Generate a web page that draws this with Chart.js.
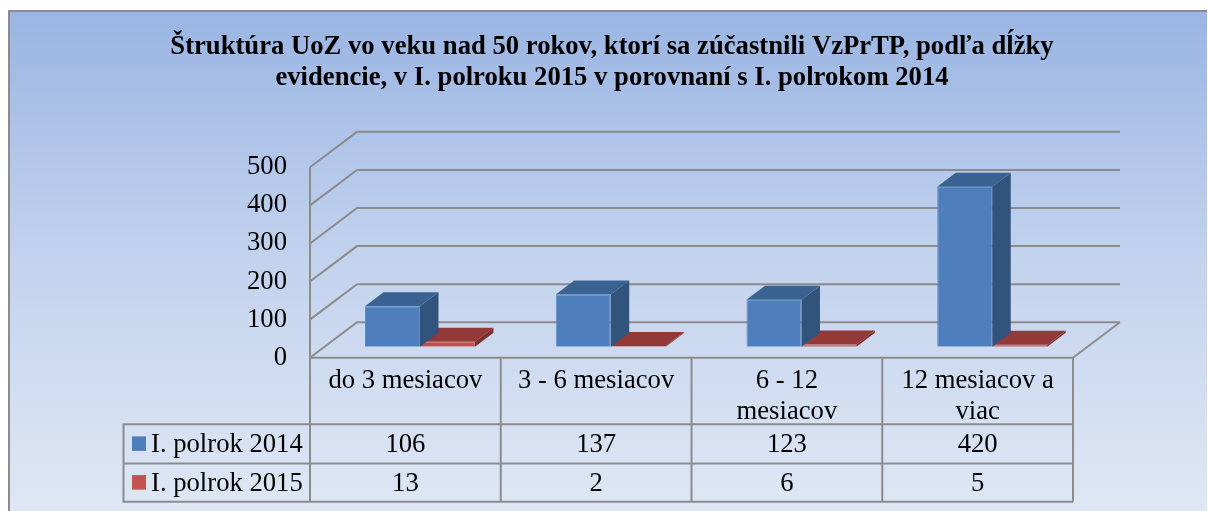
<!DOCTYPE html>
<html><head><meta charset="utf-8">
<style>html,body{margin:0;padding:0;background:#fff}#w{position:relative;width:1208px;height:511px}canvas{display:block}</style>
<script src="https://cdn.jsdelivr.net/npm/chart.js@4"></script>
</head><body><div id="w"><canvas id="c" width="1208" height="511"></canvas></div>
<script>
const titleLines = ["Štruktúra UoZ vo veku nad 50 rokov, ktorí sa zúčastnili VzPrTP, podľa dĺžky", "evidencie, v I. polroku 2015 v porovnaní s I. polrokom 2014"];
const categories = ["do 3 mesiacov", "3 - 6 mesiacov", ["6 - 12", "mesiacov"], ["12 mesiacov a", "viac"]];
const series2014 = [106, 137, 123, 420];
const series2015 = [13, 2, 6, 5];
const seriesNames = ["I. polrok 2014", "I. polrok 2015"];
const yTicks = [0, 100, 200, 300, 400, 500];

const SERIF = "'Liberation Serif','Times New Roman',serif";
const FS = 26.67;
const GRID = "#8c8c8c";
const WALL = {dx: 47, dy: -35.4};
const BAR_D = {dx: 18.5, dy: -14};
const BAR_SHIFT = {x: 14.6, y: -11};
const ROWS = [357.7, 424.3, 463.5, 501.7];
const TABLE_LEFT = 123.5;
const faces = [
  {front: "#4e7fbc", top: "#3b6391", side: "#31537c", edge: "#5f8cc4"},
  {front: "#c4524f", top: "#933a38", side: "#7d2f2d", edge: "#cb5f5c"}
];

const scene = {
  id: "scene",
  beforeDraw(ch) {
    const c = ch.ctx, {left: L, right: R, bottom: B} = ch.chartArea, y = ch.scales.y;
    const g = c.createLinearGradient(0, 12, 0, 511);
    g.addColorStop(0, "#9ab5e3"); g.addColorStop(0.5, "#c3d3ee"); g.addColorStop(1, "#dfe7f4");
    c.fillStyle = g; c.fillRect(9, 11, 1198, 500);
    c.fillStyle = "#8c8c8c"; c.fillRect(8, 10, 1199, 2); c.fillRect(8, 10, 2, 501);
    c.save(); c.strokeStyle = GRID; c.lineWidth = 2; c.beginPath();
    yTicks.forEach(t => {
      const p = y.getPixelForValue(t);
      c.moveTo(L, p); c.lineTo(L + WALL.dx, p + WALL.dy); c.lineTo(R + WALL.dx, p + WALL.dy);
    });
    c.moveTo(L, y.getPixelForValue(yTicks[yTicks.length - 1])); c.lineTo(L, B);
    c.moveTo(R, B); c.lineTo(R + WALL.dx, B + WALL.dy);
    c.stroke(); c.restore();
  },
  beforeDatasetDraw(ch, a) {
    const c = ch.ctx, f = faces[a.index];
    c.save(); c.translate(BAR_SHIFT.x, BAR_SHIFT.y);
    ch.getDatasetMeta(a.index).data.forEach(b => {
      const l = b.x - b.width / 2, r = b.x + b.width / 2;
      c.fillStyle = f.side; c.beginPath();
      c.moveTo(r, b.y); c.lineTo(r + BAR_D.dx, b.y + BAR_D.dy); c.lineTo(r + BAR_D.dx, b.base + BAR_D.dy); c.lineTo(r, b.base); c.closePath(); c.fill();
      c.fillStyle = f.top; c.beginPath();
      c.moveTo(l, b.y); c.lineTo(l + BAR_D.dx, b.y + BAR_D.dy); c.lineTo(r + BAR_D.dx, b.y + BAR_D.dy); c.lineTo(r, b.y); c.closePath(); c.fill();
    });
  },
  afterDatasetDraw(ch) { ch.ctx.restore(); },
  afterDraw(ch) {
    const c = ch.ctx, x = ch.scales.x, {left: L, right: R} = ch.chartArea;
    const edges = categories.map((_, i) => L + (R - L) * i / categories.length).concat(R);
    c.save(); c.strokeStyle = GRID; c.lineWidth = 2; c.beginPath();
    ROWS.forEach((r, i) => { c.moveTo(i ? TABLE_LEFT : L, r); c.lineTo(R, r); });
    edges.forEach(e => { c.moveTo(e, ROWS[0]); c.lineTo(e, ROWS[3]); });
    c.moveTo(TABLE_LEFT, ROWS[1] - 1); c.lineTo(TABLE_LEFT, ROWS[3] + 1);
    c.stroke();
    c.font = FS + "px " + SERIF; c.textBaseline = "middle";
    ch.data.datasets.forEach((d, s) => {
      const my = (ROWS[s + 1] + ROWS[s + 2]) / 2;
      c.fillStyle = faces[s].front; c.fillRect(132, my - 7.5, 14, 14.5);
      c.fillStyle = "#000"; c.textAlign = "left"; c.fillText(d.label, 151, my + 1.5);
      c.textAlign = "center";
      d.data.forEach((v, i) => c.fillText(String(v), x.getPixelForValue(i), my + 1.5));
    });
    c.restore();
  }
};

new Chart(document.getElementById("c"), {
  type: "bar",
  data: {
    labels: categories,
    datasets: [
      {label: seriesNames[0], data: series2014, backgroundColor: faces[0].front, borderColor: faces[0].edge, borderWidth: 1},
      {label: seriesNames[1], data: series2015, backgroundColor: faces[1].front, borderColor: faces[1].edge, borderWidth: 1}
    ]
  },
  plugins: [scene],
  options: {
    responsive: false, animation: false, devicePixelRatio: 1,
    layout: {padding: {left: 151, right: 135, top: 0, bottom: 0}},
    datasets: {bar: {barPercentage: 1, categoryPercentage: 0.5766}},
    plugins: {
      legend: {display: false}, tooltip: {enabled: false},
      title: {
        display: true, text: titleLines, color: "#000", align: "center", fullSize: true,
        font: {family: SERIF, size: FS, weight: "bold", lineHeight: 1.18},
        padding: {top: 31.3, bottom: 73}
      }
    },
    scales: {
      x: {
        grid: {display: false, drawTicks: false}, border: {display: false},
        ticks: {font: {family: SERIF, size: FS, lineHeight: 1.14}, color: "#000", maxRotation: 0, minRotation: 0, autoSkip: false, padding: 8.5},
        afterFit(s) { s.height = 153.3; }
      },
      y: {
        min: 0, max: 500, grid: {display: false, drawTicks: false}, border: {display: false},
        afterBuildTicks(s) { s.ticks = yTicks.map(v => ({value: v})); },
        ticks: {font: {family: SERIF, size: FS}, color: "#000", padding: 23},
        afterFit(s) { s.width = 159; }
      }
    }
  }
});
</script></body></html>
